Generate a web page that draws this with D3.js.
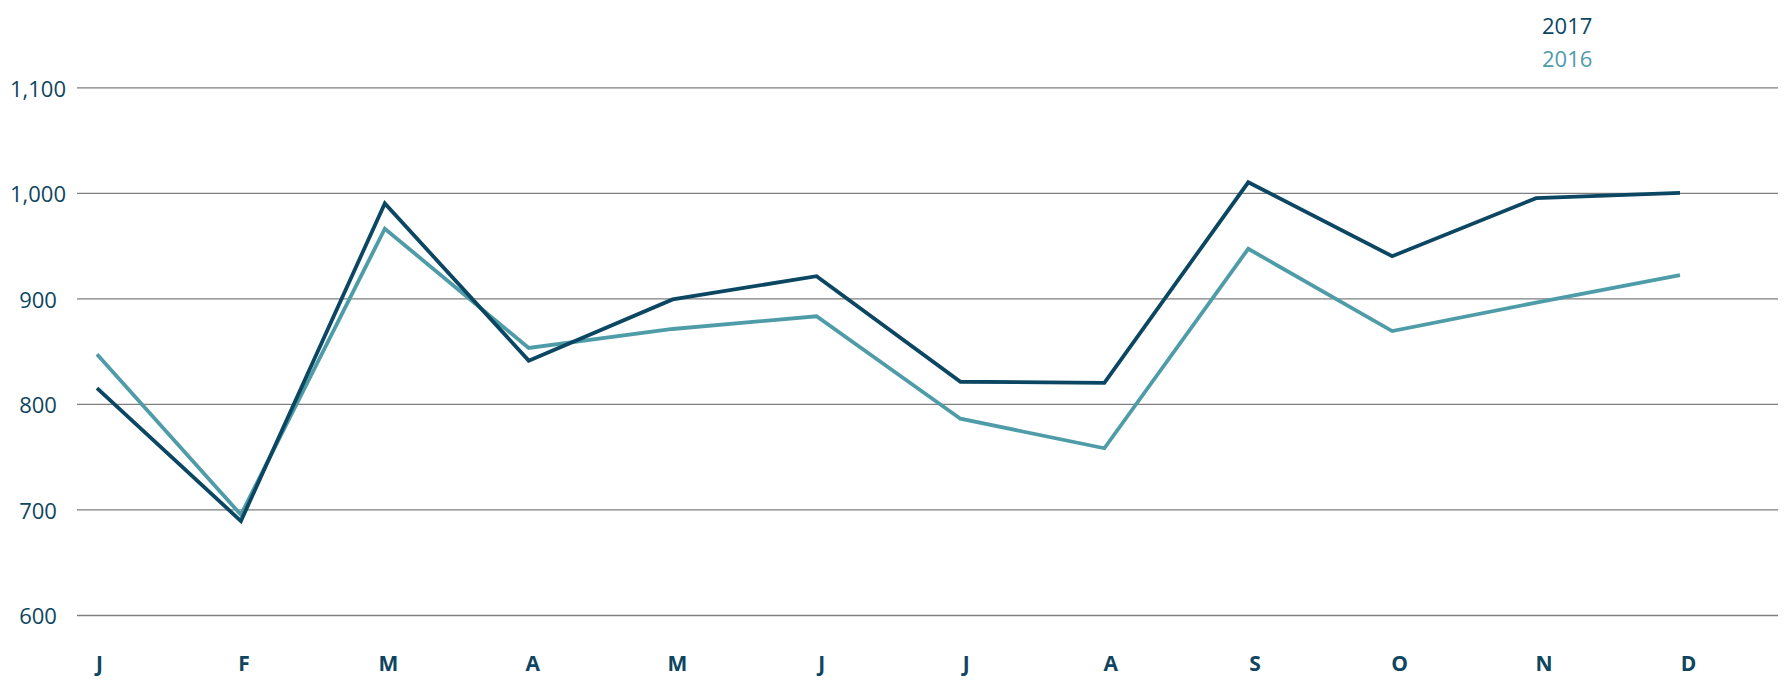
<!DOCTYPE html>
<html>
<head>
<meta charset="utf-8">
<script src="https://cdn.jsdelivr.net/npm/d3@7"></script>
<style>
  body { margin: 0; background: #fff; }
  svg, svg text { font-family: "Open Sans", "Noto Sans", sans-serif; }
  svg { display: block; }
</style>
</head>
<body>
<div id="chart"></div>
<script>
// monthly values
var months = ["J", "F", "M", "A", "M", "J", "J", "A", "S", "O", "N", "D"];
var values2017 = [815, 689, 990, 841, 899, 921, 821, 820, 1010, 940, 995, 1000];
var values2016 = [847, 695, 966, 853, 871, 883, 786, 758, 947, 869, 896, 922];
var yTicks = [600, 700, 800, 900, 1000, 1100];
var seriesNames = ["2017", "2016"];

const DARK = "#0b4662";
const LIGHT = "#4f9ca9";
const TEXT = "#0e4560";
const FONT = '"Open Sans", "Noto Sans", sans-serif';

var svg = d3.select("#chart")
  .append("svg")
  .attr("width", 1790)
  .attr("height", 700);

var idx = d3.range(months.length);

var x = d3.scalePoint().domain(idx).range([97, 1680]);
var xLabel = d3.scalePoint().domain(idx).range([99, 1688]);
var y = d3.scaleLinear().domain([600, 1100]).range([615, 87.3]);

// y axis + gridlines
var gridLeft = 77, gridRight = 1778;
var yAxis = svg.append("g")
  .attr("transform", "translate(" + gridRight + ",0)")
  .call(d3.axisLeft(y)
    .tickValues(yTicks)
    .tickSize(gridRight - gridLeft)
    .tickFormat(d3.format(",")));
yAxis.attr("font-family", FONT);
yAxis.select(".domain").remove();
yAxis.selectAll(".tick line")
  .attr("stroke", "#7f7f7f")
  .attr("stroke-width", 1.3);
yAxis.selectAll(".tick text")
  .attr("x", 38 - gridRight)
  .attr("dy", "0.4em")
  .attr("text-anchor", "middle")
  .attr("fill", TEXT)
  .style("font-size", "22px");

// month labels
var xAxis = svg.append("g")
  .attr("transform", "translate(0,615)")
  .call(d3.axisBottom(xLabel)
    .tickSize(0)
    .tickPadding(41)
    .tickFormat(function(i) { return months[i]; }));
xAxis.attr("font-family", FONT);
xAxis.select(".domain").remove();
xAxis.selectAll(".tick text")
  .attr("fill", TEXT)
  .style("font-size", "21px")
  .style("font-weight", "bold");

// lines
var line = d3.line()
  .x(function(d, i) { return x(i); })
  .y(function(d) { return y(d); });

svg.append("path")
  .datum(values2016)
  .attr("fill", "none")
  .attr("stroke", LIGHT)
  .attr("stroke-width", 3.8)
  .attr("d", line);

svg.append("path")
  .datum(values2017)
  .attr("fill", "none")
  .attr("stroke", DARK)
  .attr("stroke-width", 3.8)
  .attr("d", line);

// legend
svg.selectAll(".legend")
  .data(seriesNames)
  .enter().append("text")
  .attr("class", "legend")
  .attr("x", 1542)
  .attr("y", function(d, i) { return 34 + i * 33; })
  .attr("fill", function(d, i) { return i === 0 ? DARK : LIGHT; })
  .style("font-size", "22px")
  .text(function(d) { return d; });
</script>
</body>
</html>
